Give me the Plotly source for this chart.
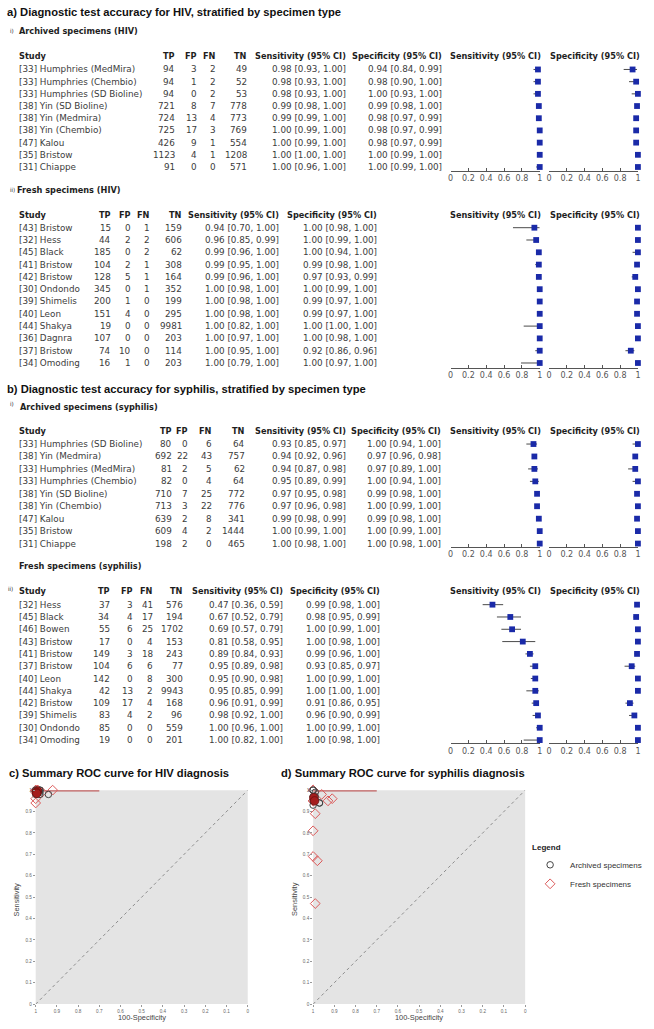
import plotly.graph_objects as go

W, H = 654, 1029

# ---------------- data: a) HIV, archived specimens ----------------
hiv_arch_study = ["[33] Humphries (MedMira)", "[33] Humphries (Chembio)", "[33] Humphries (SD Bioline)",
                  "[38] Yin (SD Bioline)", "[38] Yin (Medmira)", "[38] Yin (Chembio)",
                  "[47] Kalou", "[35] Bristow", "[31] Chiappe"]
hiv_arch_tp = [94, 94, 94, 721, 724, 725, 426, 1123, 91]
hiv_arch_fp = [3, 1, 0, 8, 13, 17, 9, 4, 0]
hiv_arch_fn = [2, 2, 2, 7, 4, 3, 1, 1, 0]
hiv_arch_tn = [49, 52, 53, 778, 773, 769, 554, 1208, 571]
hiv_arch_sens = [0.98, 0.98, 0.98, 0.99, 0.99, 1.00, 1.00, 1.00, 1.00]
hiv_arch_sens_lo = [0.93, 0.93, 0.93, 0.98, 0.99, 0.99, 0.99, 1.00, 0.96]
hiv_arch_sens_hi = [1.00, 1.00, 1.00, 1.00, 1.00, 1.00, 1.00, 1.00, 1.00]
hiv_arch_spec = [0.94, 0.98, 1.00, 0.99, 0.98, 0.98, 0.98, 1.00, 1.00]
hiv_arch_spec_lo = [0.84, 0.90, 0.93, 0.98, 0.97, 0.97, 0.97, 0.99, 0.99]
hiv_arch_spec_hi = [0.99, 1.00, 1.00, 1.00, 0.99, 0.99, 0.99, 1.00, 1.00]

# ---------------- data: a) HIV, fresh specimens ----------------
hiv_fresh_study = ["[43] Bristow", "[32] Hess", "[45] Black", "[41] Bristow", "[42] Bristow", "[30] Ondondo",
                   "[39] Shimelis", "[40] Leon", "[44] Shakya", "[36] Dagnra", "[37] Bristow", "[34] Omoding"]
hiv_fresh_tp = [15, 44, 185, 104, 128, 345, 200, 151, 19, 107, 74, 16]
hiv_fresh_fp = [0, 2, 0, 2, 5, 0, 1, 4, 0, 0, 10, 1]
hiv_fresh_fn = [1, 2, 2, 1, 1, 1, 0, 0, 0, 0, 0, 0]
hiv_fresh_tn = [159, 606, 62, 308, 164, 352, 199, 295, 9981, 203, 114, 203]
hiv_fresh_sens = [0.94, 0.96, 0.99, 0.99, 0.99, 1.00, 1.00, 1.00, 1.00, 1.00, 1.00, 1.00]
hiv_fresh_sens_lo = [0.70, 0.85, 0.96, 0.95, 0.96, 0.98, 0.98, 0.98, 0.82, 0.97, 0.95, 0.79]
hiv_fresh_sens_hi = [1.00, 0.99, 1.00, 1.00, 1.00, 1.00, 1.00, 1.00, 1.00, 1.00, 1.00, 1.00]
hiv_fresh_spec = [1.00, 1.00, 1.00, 0.99, 0.97, 1.00, 0.99, 0.99, 1.00, 1.00, 0.92, 1.00]
hiv_fresh_spec_lo = [0.98, 0.99, 0.94, 0.98, 0.93, 0.99, 0.97, 0.97, 1.00, 0.98, 0.86, 0.97]
hiv_fresh_spec_hi = [1.00, 1.00, 1.00, 1.00, 0.99, 1.00, 1.00, 1.00, 1.00, 1.00, 0.96, 1.00]

# ---------------- data: b) syphilis, archived specimens ----------------
syph_arch_study = ["[33] Humphries (SD Bioline)", "[38] Yin (Medmira)", "[33] Humphries (MedMira)",
                   "[33] Humphries (Chembio)", "[38] Yin (SD Bioline)", "[38] Yin (Chembio)",
                   "[47] Kalou", "[35] Bristow", "[31] Chiappe"]
syph_arch_tp = [80, 692, 81, 82, 710, 713, 639, 609, 198]
syph_arch_fp = [0, 22, 2, 0, 7, 3, 2, 4, 2]
syph_arch_fn = [6, 43, 5, 4, 25, 22, 8, 2, 0]
syph_arch_tn = [64, 757, 62, 64, 772, 776, 341, 1444, 465]
syph_arch_sens = [0.93, 0.94, 0.94, 0.95, 0.97, 0.97, 0.99, 1.00, 1.00]
syph_arch_sens_lo = [0.85, 0.92, 0.87, 0.89, 0.95, 0.96, 0.98, 0.99, 0.98]
syph_arch_sens_hi = [0.97, 0.96, 0.98, 0.99, 0.98, 0.98, 0.99, 1.00, 1.00]
syph_arch_spec = [1.00, 0.97, 0.97, 1.00, 0.99, 1.00, 0.99, 1.00, 1.00]
syph_arch_spec_lo = [0.94, 0.96, 0.89, 0.94, 0.98, 0.99, 0.98, 0.99, 0.98]
syph_arch_spec_hi = [1.00, 0.98, 1.00, 1.00, 1.00, 1.00, 1.00, 1.00, 1.00]

# ---------------- data: b) syphilis, fresh specimens ----------------
syph_fresh_study = ["[32] Hess", "[45] Black", "[46] Bowen", "[43] Bristow", "[41] Bristow", "[37] Bristow",
                    "[40] Leon", "[44] Shakya", "[42] Bristow", "[39] Shimelis", "[30] Ondondo", "[34] Omoding"]
syph_fresh_tp = [37, 34, 55, 17, 149, 104, 142, 42, 109, 83, 85, 19]
syph_fresh_fp = [3, 4, 6, 0, 3, 6, 0, 13, 17, 4, 0, 0]
syph_fresh_fn = [41, 17, 25, 4, 18, 6, 8, 2, 4, 2, 0, 0]
syph_fresh_tn = [576, 194, 1702, 153, 243, 77, 300, 9943, 168, 96, 559, 201]
syph_fresh_sens = [0.47, 0.67, 0.69, 0.81, 0.89, 0.95, 0.95, 0.95, 0.96, 0.98, 1.00, 1.00]
syph_fresh_sens_lo = [0.36, 0.52, 0.57, 0.58, 0.84, 0.89, 0.90, 0.85, 0.91, 0.92, 0.96, 0.82]
syph_fresh_sens_hi = [0.59, 0.79, 0.79, 0.95, 0.93, 0.98, 0.98, 0.99, 0.99, 1.00, 1.00, 1.00]
syph_fresh_spec = [0.99, 0.98, 1.00, 1.00, 0.99, 0.93, 1.00, 1.00, 0.91, 0.96, 1.00, 1.00]
syph_fresh_spec_lo = [0.98, 0.95, 0.99, 0.98, 0.96, 0.85, 0.99, 1.00, 0.86, 0.90, 0.99, 0.98]
syph_fresh_spec_hi = [1.00, 0.99, 1.00, 1.00, 1.00, 0.97, 1.00, 1.00, 0.95, 0.99, 1.00, 1.00]

# ---------------- data: summary ROC ----------------
hiv_summary_spec = [0.992, 0.997, 0.995]
hiv_summary_sens = [0.996, 0.990, 0.985]
syph_summary_spec = [0.997, 0.993]
syph_summary_sens = [0.965, 0.950]
hiv_sroc_spec = [1.0, 0.7]
hiv_sroc_sens = [0.997, 0.997]
syph_sroc_spec = [1.0, 0.7]
syph_sroc_sens = [0.997, 0.997]
diag_spec = [1.0, 0.0]
diag_sens = [0.0, 1.0]

forest_ticks = [0, 0.2, 0.4, 0.6, 0.8, 1.0]
forest_ticktext = ["0", "0.2", "0.4", "0.6", "0.8", "1"]
roc_ticks = [0, 0.1, 0.2, 0.3, 0.4, 0.5, 0.6, 0.7, 0.8, 0.9, 1.0]
roc_ticktext = ["0", "0.1", "0.2", "0.3", "0.4", "0.5", "0.6", "0.7", "0.8", "0.9", "1"]

headers = ["Study", "TP", "FP", "FN", "TN", "Sensitivity (95% CI)", "Specificity (95% CI)"]

# ---------------- layout helpers ----------------
def px(x):
    return x / W

def py(y):
    return 1 - y / H

TABLE_FONT = "DejaVu Sans"
TITLE_FONT = "Liberation Sans"
TXT = "#3c3c3c"
HDR = "#1e1e1e"
BODY = 8.8
BOLD = 8.2
annotations = []

def ann(x, y, text, size=BODY, color=TXT, xanchor="left", family=TABLE_FONT, yanchor="middle", angle=0):
    annotations.append(dict(xref="paper", yref="paper", x=px(x), y=py(y), text=text, showarrow=False,
                            xanchor=xanchor, yanchor=yanchor, textangle=angle, borderpad=0,
                            font=dict(size=size, color=color, family=family)))

sections = [
    dict(study=hiv_arch_study, tp=hiv_arch_tp, fp=hiv_arch_fp, fn=hiv_arch_fn, tn=hiv_arch_tn,
         sens=hiv_arch_sens, slo=hiv_arch_sens_lo, shi=hiv_arch_sens_hi,
         spec=hiv_arch_spec, plo=hiv_arch_spec_lo, phi=hiv_arch_spec_hi,
         r0=67.8, dr=12.25, hdr_y=54.5, axis_y=169.5, cols=[15, 175, 196.5, 216, 247, 347, 444]),
    dict(study=hiv_fresh_study, tp=hiv_fresh_tp, fp=hiv_fresh_fp, fn=hiv_fresh_fn, tn=hiv_fresh_tn,
         sens=hiv_fresh_sens, slo=hiv_fresh_sens_lo, shi=hiv_fresh_sens_hi,
         spec=hiv_fresh_spec, plo=hiv_fresh_spec_lo, phi=hiv_fresh_spec_hi,
         r0=226.8, dr=12.36, hdr_y=213.8, axis_y=367.5, cols=[15, 110, 130, 149, 182, 280, 378]),
    dict(study=syph_arch_study, tp=syph_arch_tp, fp=syph_arch_fp, fn=syph_arch_fn, tn=syph_arch_tn,
         sens=syph_arch_sens, slo=syph_arch_sens_lo, shi=syph_arch_sens_hi,
         spec=syph_arch_spec, plo=syph_arch_spec_lo, phi=syph_arch_spec_hi,
         r0=444.2, dr=12.5, hdr_y=431, axis_y=547.5, cols=[15, 172, 188, 212, 245, 347, 443]),
    dict(study=syph_fresh_study, tp=syph_fresh_tp, fp=syph_fresh_fp, fn=syph_fresh_fn, tn=syph_fresh_tn,
         sens=syph_fresh_sens, slo=syph_fresh_sens_lo, shi=syph_fresh_sens_hi,
         spec=syph_fresh_spec, plo=syph_fresh_spec_lo, phi=syph_fresh_spec_hi,
         r0=605.6, dr=12.37, hdr_y=591.5, axis_y=745, cols=[15, 109, 132, 152, 183, 284, 382]),
]

# ---------------- titles ----------------
ann(3, 10.5, "<b>a) Diagnostic test accuracy for HIV, stratified by specimen type</b>", size=11.2,
    color="#111", family=TITLE_FONT)
ann(3, 389, "<b>b) Diagnostic test accuracy for syphilis, stratified by specimen type</b>", size=11.2,
    color="#111", family=TITLE_FONT)
ann(6.5, 29, "i)", size=5.5, color=HDR)
ann(15, 29.5, "<b>Archived specimens (HIV)</b>", size=BOLD, color=HDR)
ann(6.5, 189, "ii)", size=5.5, color=HDR)
ann(13.5, 189.3, "<b>Fresh specimens (HIV)</b>", size=BOLD, color=HDR)
ann(6.5, 403.5, "i)", size=5.5, color=HDR)
ann(16, 407, "<b>Archived specimens (syphilis)</b>", size=BOLD, color=HDR)
ann(15, 567, "<b>Fresh specimens (syphilis)</b>", size=BOLD, color=HDR)
ann(4.5, 590, "ii)", size=5.5, color=HDR)

fig = go.Figure()
layout_axes = {}
FOREST_X = [(451.7, 541.7), (551.0, 640.8)]
MARK = "#1a2aa8"

for k, s in enumerate(sections):
    c = s["cols"]
    # header row
    ann(c[0], s["hdr_y"], "<b>%s</b>" % headers[0], size=BOLD, color=HDR)
    for j in range(1, 7):
        ann(c[j], s["hdr_y"], "<b>%s</b>" % headers[j], size=BOLD, color=HDR, xanchor="right")
    ann(497, s["hdr_y"], "<b>Sensitivity (95% CI)</b>", size=BOLD, color=HDR, xanchor="center")
    ann(597, s["hdr_y"], "<b>Specificity (95% CI)</b>", size=BOLD, color=HDR, xanchor="center")
    # rows
    for i in range(len(s["study"])):
        y = s["r0"] + s["dr"] * i
        ann(c[0], y, s["study"][i])
        ann(c[1], y, str(s["tp"][i]), xanchor="right")
        ann(c[2], y, str(s["fp"][i]), xanchor="right")
        ann(c[3], y, str(s["fn"][i]), xanchor="right")
        ann(c[4], y, str(s["tn"][i]), xanchor="right")
        ann(c[5], y, "%.2f [%.2f, %.2f]" % (s["sens"][i], s["slo"][i], s["shi"][i]), xanchor="right")
        ann(c[6], y, "%.2f [%.2f, %.2f]" % (s["spec"][i], s["plo"][i], s["phi"][i]), xanchor="right")

    n = len(s["study"])
    top_px = s["r0"] - 0.8 * s["dr"]
    yrange = [(s["axis_y"] - s["r0"]) / s["dr"], (top_px - s["r0"]) / s["dr"]]
    rows = list(range(n))
    for m, (est, lo, hi) in enumerate([("sens", "slo", "shi"), ("spec", "plo", "phi")]):
        idx = 2 * k + m + 1
        xa = "x" if idx == 1 else "x%d" % idx
        ya = "y" if idx == 1 else "y%d" % idx
        vals = s[est]
        plus = [h - v for h, v in zip(s[hi], vals)]
        minus = [v - l for v, l in zip(vals, s[lo])]
        fig.add_trace(go.Scatter(
            x=vals, y=rows, xaxis=xa, yaxis=ya, mode="markers", showlegend=False, cliponaxis=False,
            marker=dict(symbol="square", size=5.8, color=MARK),
            error_x=dict(type="data", symmetric=False, array=plus, arrayminus=minus,
                         thickness=1, width=0, color="#4a4a4a"),
            hoverinfo="skip"))
        x0, x1 = FOREST_X[m]
        key = "" if idx == 1 else str(idx)
        layout_axes["xaxis" + key] = dict(
            domain=[px(x0), px(x1)], range=[0, 1], anchor=ya, showgrid=False, zeroline=False,
            showline=True, linecolor="#555", linewidth=1, ticks="inside", ticklen=3, tickcolor="#555",
            tickvals=forest_ticks, ticktext=forest_ticktext,
            tickfont=dict(size=8, color="#555", family=TABLE_FONT), fixedrange=True)
        layout_axes["yaxis" + key] = dict(
            domain=[py(s["axis_y"]), py(top_px)], range=yrange, anchor=xa, visible=False,
            showgrid=False, zeroline=False, fixedrange=True)

# ---------------- summary ROC panels ----------------
ROC = [
    dict(idx=9, x0=33, x1=247, title="<b>c) Summary ROC curve for HIV diagnosis</b>", tx=5,
         arch_spec=hiv_arch_spec, arch_sens=hiv_arch_sens, fresh_spec=hiv_fresh_spec, fresh_sens=hiv_fresh_sens,
         sum_spec=hiv_summary_spec, sum_sens=hiv_summary_sens, sroc_spec=hiv_sroc_spec, sroc_sens=hiv_sroc_sens,
         legend=False),
    dict(idx=10, x0=313, x1=527, title="<b>d) Summary ROC curve for syphilis diagnosis</b>", tx=280,
         arch_spec=syph_arch_spec, arch_sens=syph_arch_sens, fresh_spec=syph_fresh_spec, fresh_sens=syph_fresh_sens,
         sum_spec=syph_summary_spec, sum_sens=syph_summary_sens, sroc_spec=syph_sroc_spec, sroc_sens=syph_sroc_sens,
         legend=True),
]
ROC_TOP, ROC_BOT = 792, 1007
shapes = []
for r in ROC:
    key = str(r["idx"])
    xa, ya = "x" + key, "y" + key
    ann(r["tx"], 775, r["title"], size=11.2, color="#111", family=TITLE_FONT)
    ann((r["x0"] + r["x1"]) / 2, 1020, "100-Specificity", size=7.4, color="#444", xanchor="center",
        family=TITLE_FONT)
    ann(r["x0"] - 19.5, (ROC_TOP + ROC_BOT) / 2 + 2, "Sensitivity", size=7.4, color="#444", xanchor="center",
        family=TITLE_FONT, angle=-90)
    shapes.append(dict(type="rect", xref=xa + " domain", yref=ya + " domain", x0=0, x1=1, y0=0, y1=1,
                       fillcolor="#e4e4e4", line=dict(width=0), layer="below"))
    fig.add_trace(go.Scatter(x=diag_spec, y=diag_sens, xaxis=xa, yaxis=ya, mode="lines", showlegend=False,
                             line=dict(color="#666", width=0.7, dash="dot"), hoverinfo="skip"))
    fig.add_trace(go.Scatter(x=r["sroc_spec"], y=r["sroc_sens"], xaxis=xa, yaxis=ya, mode="lines",
                             showlegend=False, cliponaxis=False,
                             line=dict(color="rgba(185,70,70,0.85)", width=1.6), hoverinfo="skip"))
    fig.add_trace(go.Scatter(x=r["fresh_spec"], y=r["fresh_sens"], xaxis=xa, yaxis=ya, mode="markers",
                             name="Fresh specimens", showlegend=r["legend"], legendrank=2, cliponaxis=False,
                             marker=dict(symbol="diamond-open", size=7.5, color="#dc5a5a",
                                         line=dict(width=1, color="#dc5a5a")), hoverinfo="skip"))
    fig.add_trace(go.Scatter(x=r["arch_spec"], y=r["arch_sens"], xaxis=xa, yaxis=ya, mode="markers",
                             name="Archived specimens", showlegend=r["legend"], legendrank=1, cliponaxis=False,
                             marker=dict(symbol="circle-open", size=6.5, color="#444",
                                         line=dict(width=1, color="#444")), hoverinfo="skip"))
    fig.add_trace(go.Scatter(x=r["sum_spec"], y=r["sum_sens"], xaxis=xa, yaxis=ya, mode="markers",
                             showlegend=False, cliponaxis=False,
                             marker=dict(symbol="circle", size=8.5, color="#a51c1c",
                                         line=dict(width=0.8, color="#6a1010")), hoverinfo="skip"))
    layout_axes["xaxis" + key] = dict(
        domain=[px(r["x0"]), px(r["x1"])], range=[1, 0], anchor=ya, showgrid=False, zeroline=False,
        showline=False, ticks="outside", ticklen=2, tickcolor="#999", tickvals=roc_ticks, ticktext=roc_ticktext,
        tickfont=dict(size=4.6, color="#666", family=TITLE_FONT), fixedrange=True)
    layout_axes["yaxis" + key] = dict(
        domain=[py(ROC_BOT), py(ROC_TOP)], range=[0, 1], anchor=xa, showgrid=False, zeroline=False,
        showline=False, ticks="outside", ticklen=2, tickcolor="#999", tickvals=roc_ticks, ticktext=roc_ticktext,
        tickfont=dict(size=4.6, color="#666", family=TITLE_FONT), fixedrange=True)

fig.update_layout(
    width=W, height=H, margin=dict(l=0, r=0, t=0, b=0),
    paper_bgcolor="white", plot_bgcolor="white",
    annotations=annotations, shapes=shapes,
    showlegend=True,
    legend=dict(x=px(532), y=py(842), xanchor="left", yanchor="top", bgcolor="rgba(0,0,0,0)",
                title=dict(text="<b>Legend</b>", font=dict(size=8, family=TITLE_FONT, color="#222")),
                font=dict(size=8, family=TITLE_FONT, color="#333"), itemwidth=30),
    **layout_axes)

fig.write_html("out.html", config={"displayModeBar": False},
               post_script="document.body.style.margin='0';document.body.style.overflow='hidden';")
